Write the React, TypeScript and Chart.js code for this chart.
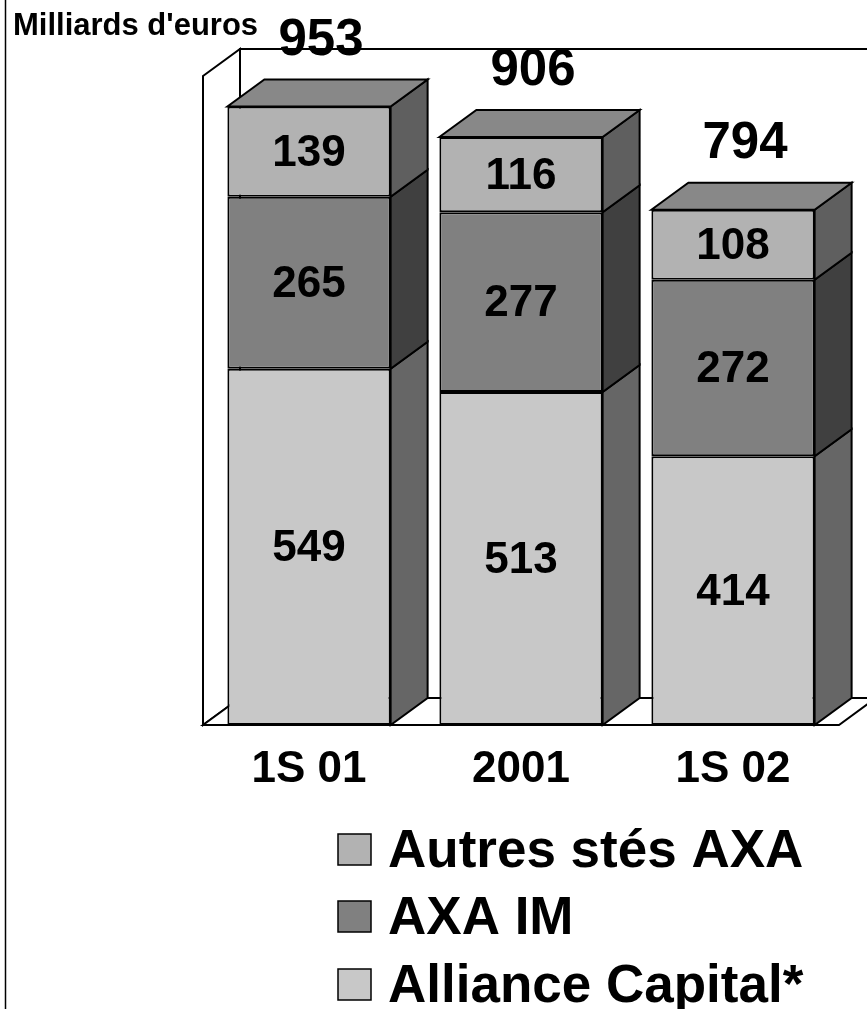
import React, { useEffect, useRef } from "react";
import { Chart, registerables } from "chart.js";

Chart.register(...registerables);

const categories = ["1S 01", "2001", "1S 02"];
const allianceCapital = [549, 513, 414];
const axaIM = [265, 277, 272];
const autresStes = [139, 116, 108];
const unitLabel = "Milliards d'euros";
const seriesNames = ["Alliance Capital*", "AXA IM", "Autres stés AXA"];

const FONT = "'Liberation Sans', Arial, Helvetica, sans-serif";
const DX = 37;
const DY = -27;

const frontColors = ["#c8c8c8", "#808080", "#b2b2b2"];
const sideColors = ["#666666", "#404040", "#5f5f5f"];
const topColor = "#888888";

function poly(ctx: CanvasRenderingContext2D, pts: number[][], fill: string) {
  ctx.beginPath();
  ctx.moveTo(pts[0][0], pts[0][1]);
  for (let i = 1; i < pts.length; i++) ctx.lineTo(pts[i][0], pts[i][1]);
  ctx.closePath();
  ctx.fillStyle = fill;
  ctx.fill();
  ctx.stroke();
}

const threeD = {
  id: "threeD",
  beforeDatasetsDraw(chart: any) {
    const { ctx, chartArea } = chart;
    const { left, right, top, bottom } = chartArea;
    ctx.save();
    ctx.lineWidth = 2;
    ctx.strokeStyle = "#000";
    ctx.lineJoin = "miter";
    poly(ctx, [[left + DX, top + DY], [right + DX, top + DY], [right + DX, bottom + DY], [left + DX, bottom + DY]], "#fff");
    poly(ctx, [[left, top], [left + DX, top + DY], [left + DX, bottom + DY], [left, bottom]], "#fff");
    poly(ctx, [[left, bottom], [left + DX, bottom + DY], [right + DX, bottom + DY], [right, bottom]], "#fff");
    ctx.restore();
  },
  afterDatasetsDraw(chart: any) {
    const { ctx } = chart;
    const n = chart.data.datasets.length;
    ctx.save();
    ctx.lineWidth = 2;
    ctx.strokeStyle = "#000";
    ctx.lineJoin = "miter";
    for (let d = 0; d < n; d++) {
      const meta = chart.getDatasetMeta(d);
      meta.data.forEach((el: any) => {
        const { x, y, base, width } = el.getProps(["x", "y", "base", "width"], true);
        const r = x + width / 2;
        const l = x - width / 2;
        poly(ctx, [[r, y], [r + DX, y + DY], [r + DX, base + DY], [r, base]], sideColors[d]);
        if (d === n - 1) {
          poly(ctx, [[l, y], [l + DX, y + DY], [r + DX, y + DY], [r, y]], topColor);
        }
      });
    }
    ctx.fillStyle = "#000";
    ctx.textAlign = "center";
    ctx.textBaseline = "middle";
    ctx.font = `bold 44px ${FONT}`;
    for (let d = 0; d < n; d++) {
      const meta = chart.getDatasetMeta(d);
      const data = chart.data.datasets[d].data;
      meta.data.forEach((el: any, i: number) => {
        const { x, y, base } = el.getProps(["x", "y", "base"], true);
        ctx.fillText(String(data[i]), x, (y + base) / 2 + 2);
      });
    }
    ctx.font = `bold 51px ${FONT}`;
    const topMeta = chart.getDatasetMeta(n - 1);
    topMeta.data.forEach((el: any, i: number) => {
      const { x, y } = el.getProps(["x", "y"], true);
      let total = 0;
      for (let d = 0; d < n; d++) total += Number(chart.data.datasets[d].data[i]);
      ctx.fillText(String(total), x + 12, y - 66);
    });
    ctx.restore();
  },
  afterDraw(chart: any) {
    const { ctx } = chart;
    ctx.save();
    ctx.strokeStyle = "#000";
    ctx.lineWidth = 1.5;
    ctx.beginPath();
    ctx.moveTo(5.5, 0);
    ctx.lineTo(5.5, 1009);
    ctx.stroke();
    ctx.fillStyle = "#000";
    ctx.textAlign = "left";
    ctx.textBaseline = "middle";
    ctx.font = `bold 31px ${FONT}`;
    ctx.fillText(unitLabel, 13, 26);
    const n = chart.data.datasets.length;
    const rowsY = [850, 917, 985];
    ctx.font = `bold 53px ${FONT}`;
    for (let k = 0; k < n; k++) {
      const d = n - 1 - k;
      const ds = chart.data.datasets[d];
      const cy = rowsY[k];
      ctx.fillStyle = ds.backgroundColor;
      ctx.lineWidth = 1.5;
      ctx.fillRect(338, cy - 16, 33, 31);
      ctx.strokeRect(338, cy - 16, 33, 31);
      ctx.fillStyle = "#000";
      ctx.fillText(ds.label, 388, cy + 2);
    }
    ctx.restore();
  },
};

export default function App() {
  const ref = useRef<HTMLCanvasElement | null>(null);
  useEffect(() => {
    if (!ref.current) return;
    const seriesData = [allianceCapital, axaIM, autresStes];
    const chart = new Chart(ref.current, {
      type: "bar",
      data: {
        labels: categories,
        datasets: seriesData.map((vals, i) => ({
          label: seriesNames[i],
          data: vals,
          backgroundColor: frontColors[i],
          borderColor: "#000",
          borderWidth: 2,
          borderSkipped: false,
          categoryPercentage: 1,
          barPercentage: 0.77,
        })),
      },
      options: {
        responsive: false,
        animation: false,
        layout: { padding: { left: 203, right: 28, top: 76, bottom: 184 } },
        plugins: { legend: { display: false }, tooltip: { enabled: false } },
        scales: {
          x: {
            stacked: true,
            grid: { display: false },
            border: { display: false },
            ticks: { font: { size: 44, weight: "bold", family: FONT }, color: "#000", padding: 10 },
            afterFit: (s: any) => {
              s.height = 100;
            },
          },
          y: { stacked: true, display: false, min: 0, max: 1000 },
        },
      },
      plugins: [threeD],
    });
    return () => chart.destroy();
  }, []);
  return (
    <div style={{ position: "fixed", left: 0, top: 0, width: 867, height: 1009, background: "#fff" }}>
      <canvas ref={ref} width={867} height={1009} />
    </div>
  );
}
